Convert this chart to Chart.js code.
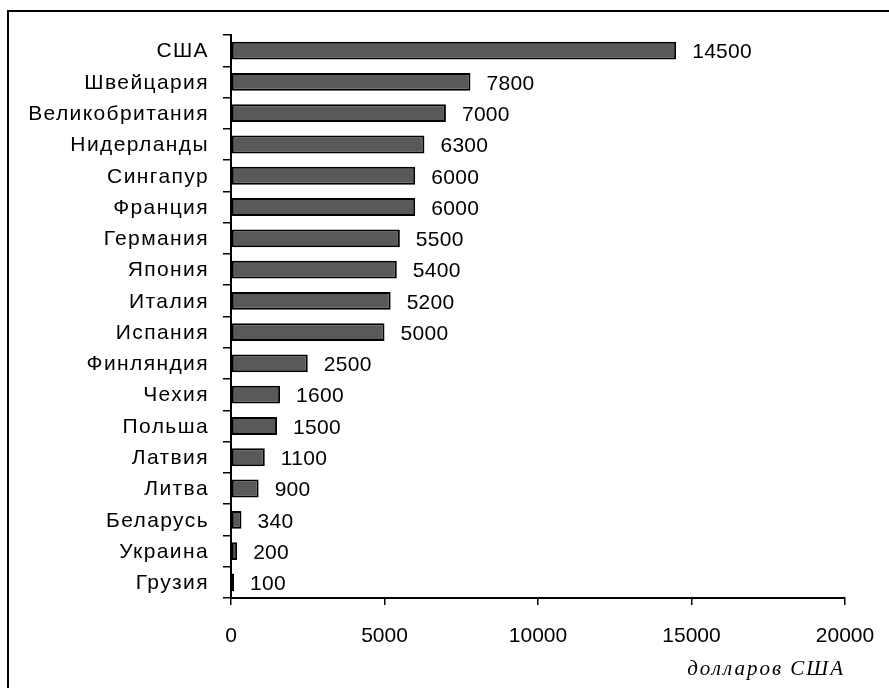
<!DOCTYPE html>
<html>
<head>
<meta charset="utf-8">
<script src="https://cdn.jsdelivr.net/npm/chart.js@4"></script>
<style>
  html, body { margin: 0; padding: 0; background: #fff; }
  #wrap { position: relative; width: 889px; height: 688px; }
  canvas { display: block; }
</style>
</head>
<body>
<div id="wrap"><canvas id="c" width="889" height="688"></canvas></div>
<script>
// Countries, top to bottom
const countries = [
  "США", "Швейцария", "Великобритания", "Нидерланды", "Сингапур", "Франция",
  "Германия", "Япония", "Италия", "Испания", "Финляндия", "Чехия",
  "Польша", "Латвия", "Литва", "Беларусь", "Украина", "Грузия"
];
// Values, dollars USA
const values = [
  14500, 7800, 7000, 6300, 6000, 6000,
  5500, 5400, 5200, 5000, 2500, 1600,
  1500, 1100, 900, 340, 200, 100
];
const xTicks = [0, 5000, 10000, 15000, 20000];
const unitLabel = "долларов США";

const FONT = "'Liberation Sans', Arial, sans-serif";
const SERIF = "'Liberation Serif', 'Times New Roman', serif";

// Frame line along top and left edges
const framePlugin = {
  id: 'frame',
  beforeDraw(chart) {
    const ctx = chart.ctx;
    ctx.save();
    ctx.fillStyle = '#fff';
    ctx.fillRect(0, 0, chart.width, chart.height);
    ctx.strokeStyle = '#000';
    ctx.lineWidth = 2;
    ctx.beginPath();
    ctx.moveTo(8, chart.height + 2);
    ctx.lineTo(8, 11);
    ctx.lineTo(chart.width + 2, 11);
    ctx.stroke();
    ctx.restore();
  }
};

// Category names, value labels and unit caption
const textPlugin = {
  id: 'texts',
  afterDatasetsDraw(chart) {
    const ctx = chart.ctx;
    const yScale = chart.scales.y;
    const xScale = chart.scales.x;
    const meta = chart.getDatasetMeta(0);
    ctx.save();
    ctx.fillStyle = '#000';
    ctx.textBaseline = 'middle';

    // category names, right-aligned left of the axis
    ctx.font = "21px " + FONT;
    ctx.letterSpacing = '1.4px';
    ctx.textAlign = 'right';
    chart.data.labels.forEach((lab, i) => {
      const y = yScale.getPixelForTick(i);
      ctx.fillText(lab, yScale.right - 22, y + 1);
    });

    // values at the end of each bar
    ctx.letterSpacing = '0.3px';
    ctx.textAlign = 'left';
    meta.data.forEach((bar, i) => {
      const v = chart.data.datasets[0].data[i];
      ctx.fillText(String(v), bar.x + 16, bar.y + 2);
    });

    // unit caption under the axis, right-aligned
    ctx.font = "italic 21px " + SERIF;
    ctx.letterSpacing = '2px';
    ctx.textAlign = 'right';
    ctx.fillText(unitLabel, xScale.right, 669);
    ctx.restore();
  }
};

new Chart(document.getElementById('c'), {
  type: 'bar',
  data: {
    labels: countries,
    datasets: [{
      data: values,
      backgroundColor: '#595959',
      borderColor: '#000',
      borderWidth: 2,
      borderSkipped: false,
      categoryPercentage: 1,
      barPercentage: 0.57
    }]
  },
  options: {
    indexAxis: 'y',
    responsive: false,
    animation: false,
    devicePixelRatio: 1,
    layout: { padding: { top: 35, right: 44, left: 0, bottom: 0 } },
    plugins: {
      legend: { display: false },
      tooltip: { enabled: false }
    },
    scales: {
      x: {
        type: 'linear',
        min: xTicks[0],
        max: xTicks[xTicks.length - 1],
        afterBuildTicks(scale) {
          scale.ticks = xTicks.map(v => ({ value: v }));
        },
        afterFit(scale) {
          scale.height = 90;
          scale.paddingLeft = 0;
          scale.paddingRight = 0;
        },
        border: { display: true, color: '#000', width: 2 },
        grid: {
          drawOnChartArea: false,
          drawTicks: true,
          tickLength: 7,
          color: '#000',
          lineWidth: 1.5
        },
        ticks: {
          color: '#000',
          font: { size: 21, family: FONT },
          padding: 19,
          callback: v => String(v)
        }
      },
      y: {
        type: 'category',
        offset: true,
        afterFit(scale) {
          scale.width = 231;
          scale.paddingTop = 0;
          scale.paddingBottom = 0;
        },
        border: { display: true, color: '#000', width: 2 },
        grid: {
          offset: true,
          drawOnChartArea: false,
          drawTicks: true,
          tickLength: 8,
          color: '#000',
          lineWidth: 1.5
        },
        ticks: { display: false, autoSkip: false }
      }
    }
  },
  plugins: [framePlugin, textPlugin]
});
</script>
</body>
</html>
